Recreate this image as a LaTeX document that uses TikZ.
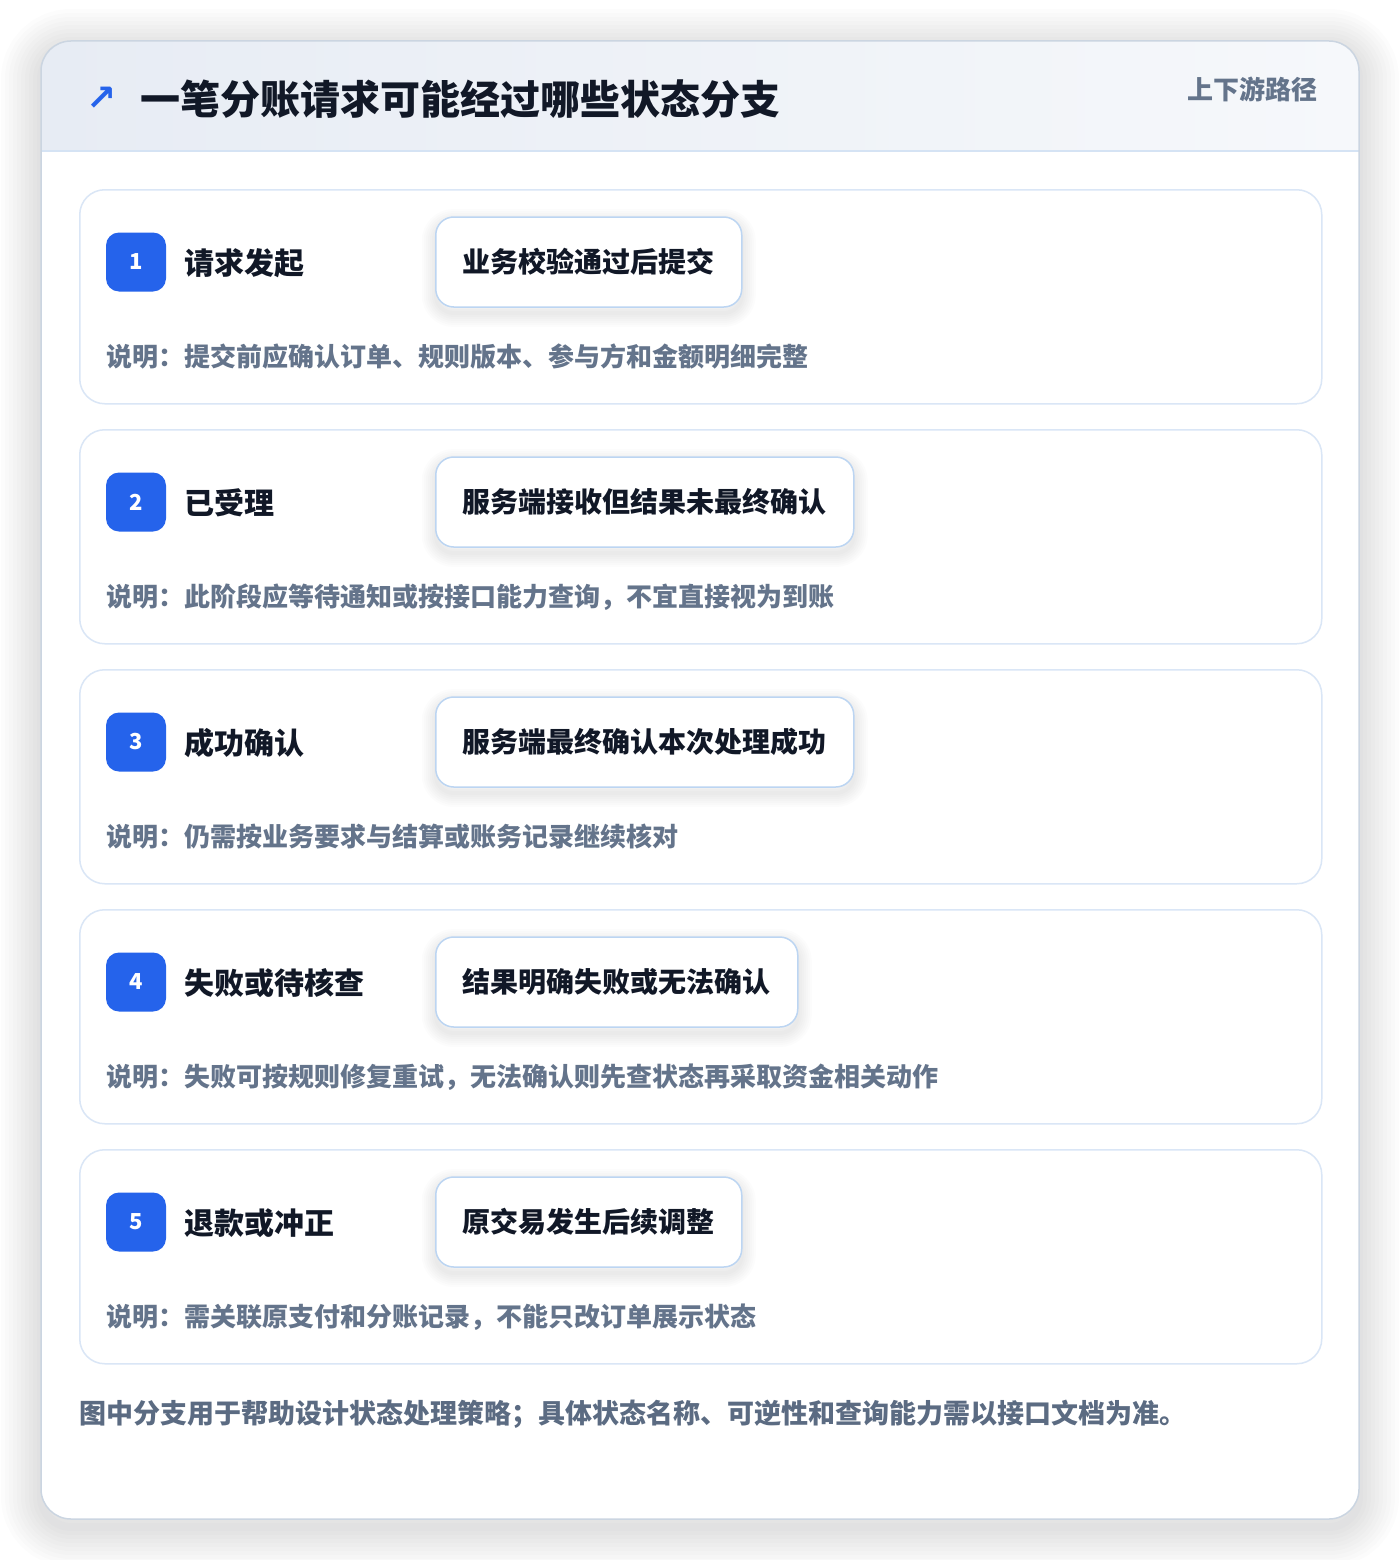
\documentclass[tikz,border=0pt]{standalone}
\usepackage{fontspec}
\setmainfont{Noto Sans CJK SC}
\newfontfamily\symfont{DejaVu Sans}
\definecolor{outerline}{HTML}{CBD5E1}
\definecolor{hdrL}{HTML}{E7ECF4}
\definecolor{hdrR}{HTML}{F6F8FB}
\definecolor{hdrline}{HTML}{D5E3F4}
\definecolor{cardline}{HTML}{DAE6F6}
\definecolor{pillline}{HTML}{BCD5F2}
\definecolor{badgeblue}{HTML}{2563EB}
\definecolor{darktext}{HTML}{111827}
\definecolor{graytext}{HTML}{64748B}
\definecolor{foottext}{HTML}{5B6B82}
\definecolor{shadowc}{HTML}{1E293B}
\tikzset{
  shband/.style={preaction={draw=shadowc, draw opacity=0.010, line width=#1, transform canvas={yshift=-6bp}}},
  pillshadow/.style={shband=4bp, shband=8bp, shband=12bp, shband=16bp, shband=20bp, shband=24bp, shband=28bp},
  oshband/.style={preaction={draw=shadowc, draw opacity=0.012, line width=#1, transform canvas={yshift=-8bp}}},
  outershadow/.style={oshband=8bp, oshband=16bp, oshband=24bp, oshband=32bp, oshband=40bp, oshband=48bp, oshband=56bp, oshband=64bp, oshband=72bp, oshband=80bp},
  cardbox/.style={draw=cardline, line width=1.5bp, fill=white, rounded corners=25bp,
    minimum width=1242bp, minimum height=214bp, anchor=north west, inner sep=0pt},
  badgebox/.style={fill=badgeblue, rounded corners=13bp, minimum width=60bp, minimum height=59bp,
    inner sep=0pt, text=white, font=\bfseries\fontsize{22bp}{26bp}\selectfont},
  titletext/.style={anchor=west, inner sep=0pt, text=darktext, font=\bfseries\fontsize{30bp}{36bp}\selectfont},
  pillbox/.style={anchor=west, pillshadow, draw=pillline, line width=1.5bp, fill=white, rounded corners=18bp,
    minimum height=90bp, inner xsep=27bp, inner ysep=0pt, text=darktext,
    font=\bfseries\fontsize{28bp}{34bp}\selectfont},
  desctext/.style={anchor=west, inner sep=0pt, text=graytext, font=\bfseries\fontsize{26bp}{30bp}\selectfont},
}
\newcommand\staterow[5]{%
  \node[cardbox] (card#1) at (79,#2) {};
  \node[badgebox] (badge#1) at (136,#2+73) {#1};
  \node[titletext] (title#1) at (184,#2+74) {#3};
  \node[pillbox] (pill#1) at (435,#2+73) {#4};
  \node[desctext] (desc#1) at (106,#2+168) {#5};
}
\begin{document}
\begin{tikzpicture}[x=1bp,y=-1bp]
\useasboundingbox (0,0) rectangle (1400,1560);
\fill[white] (0,0) rectangle (1400,1560);
% outer card with shadow
\path[outershadow, fill=white, rounded corners=30bp] (41,41) rectangle (1359,1519);
% header band
\begin{scope}
  \clip[rounded corners=30bp] (41,41) rectangle (1359,1519);
  \shade[left color=hdrL, right color=hdrR] (41,41) rectangle (1359,151);
\end{scope}
\draw[hdrline, line width=1.5bp] (41,151) -- (1359,151);
\draw[outerline, line width=1.5bp, rounded corners=30bp] (41,41) rectangle (1359,1519);
% header texts
\node[inner sep=0pt, text=badgeblue, font=\symfont\bfseries\fontsize{36bp}{38bp}\selectfont] (arrow) at (102,99) {↗};
\node[anchor=west, inner sep=0pt, text=darktext, font=\bfseries\fontsize{40bp}{46bp}\selectfont] (title) at (140,99) {一笔分账请求可能经过哪些状态分支};
\node[anchor=east, inner sep=0pt, text=graytext, font=\bfseries\fontsize{26bp}{30bp}\selectfont] (tag) at (1318,89) {上下游路径};
% rows
\staterow{1}{189}{请求发起}{业务校验通过后提交}{说明：提交前应确认订单、规则版本、参与方和金额明细完整}
\staterow{2}{429}{已受理}{服务端接收但结果未最终确认}{说明：此阶段应等待通知或按接口能力查询，不宜直接视为到账}
\staterow{3}{669}{成功确认}{服务端最终确认本次处理成功}{说明：仍需按业务要求与结算或账务记录继续核对}
\staterow{4}{909}{失败或待核查}{结果明确失败或无法确认}{说明：失败可按规则修复重试，无法确认则先查状态再采取资金相关动作}
\staterow{5}{1149}{退款或冲正}{原交易发生后续调整}{说明：需关联原支付和分账记录，不能只改订单展示状态}
% footer
\node[anchor=west, inner sep=0pt, text=foottext, font=\bfseries\fontsize{27bp}{32bp}\selectfont] (footer) at (79,1414) {图中分支用于帮助设计状态处理策略；具体状态名称、可逆性和查询能力需以接口文档为准。};
\end{tikzpicture}
\end{document}
